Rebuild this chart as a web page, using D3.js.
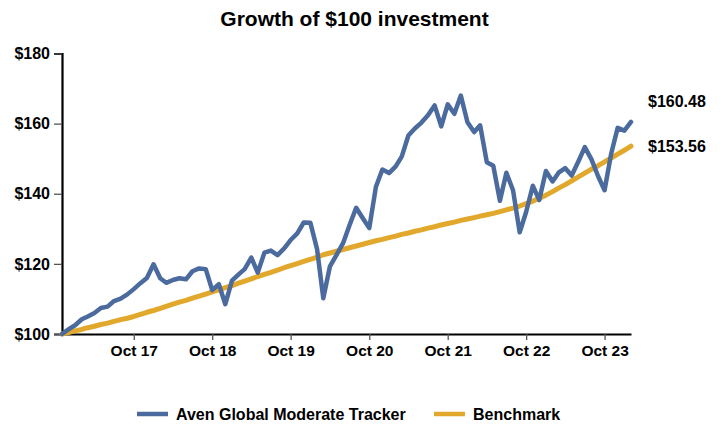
<!DOCTYPE html>
<html>
<head>
<meta charset="utf-8">
<script src="https://cdn.jsdelivr.net/npm/d3@7/dist/d3.min.js"></script>
<style>
  html, body { margin: 0; padding: 0; background: #fff; }
  svg { display: block; }
  text { font-family: "Liberation Sans", Arial, sans-serif; font-weight: bold; fill: #000; }
</style>
</head>
<body>
<svg id="chart" width="721" height="425"></svg>
<script>
// ---- data ----
const title = "Growth of $100 investment";
const seriesNames = ["Aven Global Moderate Tracker", "Benchmark"];
const firstMonth = "2016-11";   // monthly observations from here
const fundValues = [
  100.0, 101.3, 102.5, 104.2, 105.0, 106.0, 107.4, 107.8, 109.4, 110.1, 111.3, 112.8,
  114.5, 116.0, 119.9, 115.9, 114.6, 115.4, 115.9, 115.6, 117.9, 118.7, 118.5, 112.5,
  114.2, 108.5, 115.2, 117.0, 118.5, 121.8, 117.5, 123.2, 123.8, 122.5, 124.4, 126.8,
  128.7, 131.8, 131.7, 124.2, 110.2, 119.3, 122.5, 125.9, 131.0, 136.0, 133.0, 130.2,
  142.0, 146.9, 145.9, 147.8, 150.6, 156.6, 158.6, 160.3, 162.4, 165.2, 159.2, 165.5,
  162.8, 168.0, 160.4, 157.6, 159.5, 149.0, 148.0, 138.0, 146.0, 141.0, 129.0, 134.8,
  142.3, 138.2, 146.5, 143.5, 146.0, 147.3, 145.2, 149.2, 153.3, 149.8, 145.0, 141.0,
  151.5, 158.8, 158.0, 160.48
];
const benchmarkValues = [
  100.0, 100.4, 100.9, 101.3, 101.8, 102.2, 102.7, 103.1, 103.6, 104.1, 104.5, 105.0,
  105.6, 106.2, 106.7, 107.3, 107.9, 108.5, 109.1, 109.6, 110.2, 110.8, 111.4, 112.0,
  112.6, 113.2, 113.8, 114.5, 115.1, 115.7, 116.4, 117.0, 117.6, 118.2, 118.9, 119.5,
  120.1, 120.7, 121.3, 121.9, 122.6, 123.1, 123.6, 124.1, 124.6, 125.1, 125.6, 126.1,
  126.6, 127.0, 127.5, 127.9, 128.4, 128.8, 129.3, 129.7, 130.2, 130.6, 131.1, 131.5,
  131.9, 132.4, 132.8, 133.2, 133.6, 134.0, 134.4, 134.9, 135.4, 135.9, 136.5, 137.2,
  137.9, 138.7, 139.6, 140.6, 141.6, 142.6, 143.7, 144.8, 145.9, 147.0, 148.0, 149.1,
  150.2, 151.3, 152.4, 153.56
];
const endLabels = ["$160.48", "$153.56"];
const yTicks = [100, 120, 140, 160, 180];
const xTickLabels = ["Oct 17", "Oct 18", "Oct 19", "Oct 20", "Oct 21", "Oct 22", "Oct 23"];
const colors = ["#4b6a9d", "#e2a82c"];

// ---- build ----
const FONT = '"Liberation Sans", Arial, sans-serif';
const parseMonth = d3.timeParse("%Y-%m");
const start = parseMonth(firstMonth);
const dates = fundValues.map((_, i) => d3.timeMonth.offset(start, i));
const xTickDates = xTickLabels.map(s => d3.timeParse("%b %y")(s));

const svg = d3.select("#chart");
const x = d3.scaleTime().domain([dates[0], dates[dates.length - 1]]).range([62, 631]);
const y = d3.scaleLinear().domain([100, 180]).range([334, 53.5]);

// title
svg.append("text").attr("x", 354.5).attr("y", 25.5).attr("text-anchor", "middle")
  .style("font-size", "21px").text(title);

// y axis
const yAxis = svg.append("g").attr("transform", "translate(62,0)")
  .call(d3.axisLeft(y).tickValues(yTicks).tickFormat(d => "$" + d).tickSize(8).tickPadding(4));
yAxis.select(".domain").attr("stroke", "#000").attr("stroke-width", 2.2);
yAxis.selectAll(".tick line").attr("stroke", "#555").attr("stroke-width", 1.3);
yAxis.selectAll(".tick text").style("font-size", "16px").style("font-family", FONT)
  .style("font-weight", "bold").attr("fill", "#000");

// x axis
const xAxis = svg.append("g").attr("transform", "translate(0,334)")
  .call(d3.axisBottom(x).tickValues(xTickDates).tickFormat((d, i) => xTickLabels[i])
    .tickSize(6).tickSizeOuter(0).tickPadding(5));
xAxis.select(".domain").attr("stroke", "#000").attr("stroke-width", 2.2);
xAxis.selectAll(".tick line").attr("stroke", "#555").attr("stroke-width", 1.3);
xAxis.selectAll(".tick text").style("font-size", "15.5px").style("font-family", FONT)
  .style("font-weight", "bold").attr("fill", "#000");

// lines
const line = d3.line().x((d, i) => x(dates[i])).y(d => y(d)).curve(d3.curveLinear);
svg.append("path").datum(benchmarkValues).attr("d", line)
  .attr("fill", "none").attr("stroke", colors[1]).attr("stroke-width", 5)
  .attr("stroke-linejoin", "round").attr("stroke-linecap", "round");
svg.append("path").datum(fundValues).attr("d", line)
  .attr("fill", "none").attr("stroke", colors[0]).attr("stroke-width", 4.5)
  .attr("stroke-linejoin", "round").attr("stroke-linecap", "round");

// end labels
const lastX = x(dates[dates.length - 1]);
svg.append("text").attr("x", lastX + 17).attr("y", y(fundValues[fundValues.length - 1]) - 14.5)
  .style("font-size", "16px").text(endLabels[0]);
svg.append("text").attr("x", lastX + 17).attr("y", y(benchmarkValues[benchmarkValues.length - 1]) + 5.5)
  .style("font-size", "16px").text(endLabels[1]);

// legend
const legend = [
  { name: seriesNames[0], color: colors[0], x: 137 },
  { name: seriesNames[1], color: colors[1], x: 434 }
];
const lg = svg.append("g");
legend.forEach(l => {
  lg.append("line").attr("x1", l.x).attr("x2", l.x + 31).attr("y1", 414).attr("y2", 414)
    .attr("stroke", l.color).attr("stroke-width", 4.5);
  lg.append("text").attr("x", l.x + 39).attr("y", 420).style("font-size", "16px").text(l.name);
});
</script>
</body>
</html>
